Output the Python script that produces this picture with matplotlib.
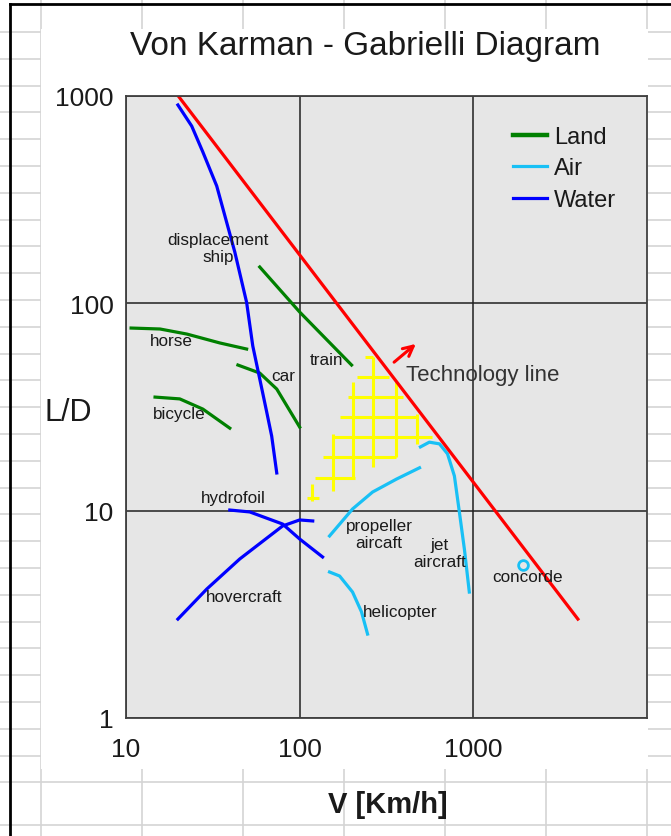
import matplotlib
matplotlib.use('Agg')
import matplotlib.pyplot as plt
from matplotlib.patches import Rectangle

plt.rcParams['font.family'] = ['Liberation Sans', 'DejaVu Sans']

W, H = 671, 837

# ---------------- data ----------------
x_ticks = [10, 100, 1000]
x_tick_labels = ['10', '100', '1000']
y_ticks = [1, 10, 100, 1000]
y_tick_labels = ['1', '10', '100', '1000']

tech_v = [20, 4000]
tech_ld = [1000, 3]
arrow_v = [340, 480]
arrow_ld = [51, 65]

# Water
ship_v = [19.9, 23.9, 27.7, 33.3, 38.5, 42.3, 49.5, 53.7, 58.9, 64.6, 69.0, 73.8]
ship_ld = [905, 716, 537, 368, 236, 177, 101, 62.3, 43.2, 29.9, 22.9, 15.2]
hydrofoil_v = [39.6, 51.6, 79.8, 100, 135.5]
hydrofoil_ld = [10.07, 9.86, 8.62, 7.30, 5.98]
hovercraft_v = [19.9, 29.2, 45.2, 79.8, 100, 118.9]
hovercraft_ld = [3.0, 4.19, 5.85, 8.44, 9.02, 8.92]

# Land
horse_v = [10.7, 15.7, 22.4, 34.7, 49.5]
horse_ld = [76.0, 75.2, 71.1, 64.4, 60.2]
bicycle_v = [14.7, 20.4, 27.7, 39.6]
bicycle_ld = [35.3, 34.6, 30.9, 25.0]
car_v = [44.1, 58.9, 73.8, 100]
car_ld = [50.4, 46.1, 38.6, 25.3]
train_v = [58.9, 100, 199]
train_ld = [149.7, 90.8, 50.4]

# Air
prop_v = [148.6, 201.6, 263, 361, 490]
prop_ld = [7.55, 10.19, 12.3, 14.2, 16.1]
jet_v = [496, 558, 638, 710, 778, 831, 888, 948]
jet_ld = [20.3, 21.4, 21.0, 18.8, 14.7, 9.85, 6.53, 4.05]
heli_v = [148.6, 169.8, 201.6, 227, 246]
heli_ld = [5.06, 4.84, 4.05, 3.25, 2.54]
concorde_v = [1936]
concorde_ld = [5.47]

# yellow mesh (future technology region)
mesh_h_ld = [55.1, 44.1, 35.3, 28.3, 22.7, 18.1, 14.4, 11.5]
mesh_h_v1 = [237, 213, 189, 170, 155, 135.6, 122, 109.7]
mesh_h_v2 = [266, 329, 391, 473, 581, 359, 207, 130]
mesh_v_v = [266, 202, 359, 473, 155, 117.2]
mesh_v_ld1 = [55.1, 41.8, 41.8, 29.3, 23.4, 13.4]
mesh_v_ld2 = [16.2, 14.5, 18.1, 21.0, 12.4, 11.1]

series_names = ['Land', 'Air', 'Water']

# ---------------- styles ----------------
GREEN = '#008000'
AIR = '#18C0F5'
BLUE = '#0000FF'
RED = '#FF0000'
YELLOW = '#FFFF00'
TXT = '#1a1a1a'

fig = plt.figure(figsize=(W / 100, H / 100), dpi=100)
fig.patch.set_facecolor('white')

# spreadsheet background
bg = fig.add_axes([0, 0, 1, 1], zorder=0)
bg.set_xlim(0, W)
bg.set_ylim(H, 0)
bg.axis('off')
rows = [33 + 26.8 * k for k in range(29)] + [826]
cols = [41, 142, 243, 344, 445, 546, 647]
for r in rows:
    bg.plot([0, W], [r, r], color='#d4d4d4', lw=1.2)
for c in cols:
    bg.plot([c, c], [0, H], color='#d4d4d4', lw=1.2)
bg.add_patch(Rectangle((41, 30), 607, 740, facecolor='white', edgecolor='none', zorder=3))
bg.plot([10, 10], [5, H], color='black', lw=2, zorder=5)
bg.plot([10, W], [5, 5], color='black', lw=2, zorder=5)

# main axes
L, R, T, B = 126, 647, 97, 719
ax = fig.add_axes([L / W, 1 - B / H, (R - L) / W, (B - T) / H], zorder=2)
ax.set_facecolor('#E6E6E6')
ax.set_xscale('log')
ax.set_yscale('log')
ax.set_xlim(10, 10000)
ax.set_ylim(1, 1000)
ax.set_xticks(x_ticks)
ax.set_xticklabels(x_tick_labels)
ax.set_yticks(y_ticks)
ax.set_yticklabels(y_tick_labels)
ax.minorticks_off()
ax.tick_params(axis='both', length=0, labelsize=19, labelcolor=TXT)
ax.tick_params(axis='x', pad=14)
ax.tick_params(axis='y', pad=9)
ax.grid(True, which='major', color='#202020', lw=1.1)
ax.set_axisbelow(True)
for s in ax.spines.values():
    s.set_color('#404040')
    s.set_linewidth(1.3)

lw = 2.3
# yellow mesh
for ld, v1, v2 in zip(mesh_h_ld, mesh_h_v1, mesh_h_v2):
    ax.plot([v1, v2], [ld, ld], color=YELLOW, lw=2.2, solid_capstyle='butt')
for v, l1, l2 in zip(mesh_v_v, mesh_v_ld1, mesh_v_ld2):
    ax.plot([v, v], [l1, l2], color=YELLOW, lw=2.2, solid_capstyle='butt')

ax.plot(horse_v, horse_ld, color=GREEN, lw=lw)
ax.plot(bicycle_v, bicycle_ld, color=GREEN, lw=lw)
ax.plot(car_v, car_ld, color=GREEN, lw=lw)
h_land, = ax.plot(train_v, train_ld, color=GREEN, lw=lw, label=series_names[0])

h_air, = ax.plot(prop_v, prop_ld, color=AIR, lw=lw, label=series_names[1])
ax.plot(jet_v, jet_ld, color=AIR, lw=lw)
ax.plot(heli_v, heli_ld, color=AIR, lw=lw)
ax.plot(concorde_v, concorde_ld, 'o', mfc='none', mec=AIR, ms=7, mew=2)

h_water, = ax.plot(ship_v, ship_ld, color=BLUE, lw=lw, label=series_names[2])
ax.plot(hydrofoil_v, hydrofoil_ld, color=BLUE, lw=lw)
ax.plot(hovercraft_v, hovercraft_ld, color=BLUE, lw=lw)

ax.plot(tech_v, tech_ld, color=RED, lw=lw)
ax.annotate('', xy=(arrow_v[1], arrow_ld[1]), xytext=(arrow_v[0], arrow_ld[0]),
            arrowprops=dict(arrowstyle='->', color=RED, lw=2.2, mutation_scale=18))

leg = ax.legend(handles=[h_land, h_air, h_water], loc='upper left',
                bbox_to_anchor=((513 - L) / (R - L), (B - 127) / (B - T)),
                frameon=False, fontsize=17, handlelength=1.45, handletextpad=0.3,
                labelspacing=0.4, borderpad=0, borderaxespad=0)
for t in leg.get_texts():
    t.set_color(TXT)
leg.get_lines()[0].set_linewidth(3.2)

def P(x, y):
    return x / W, 1 - y / H

# titles
fig.text(*P(365, 46), 'Von Karman - Gabrielli Diagram', fontsize=24, ha='center', va='center', color=TXT, zorder=10)
fig.text(*P(68, 413), 'L/D', fontsize=22, ha='center', va='center', color=TXT, zorder=10)
fig.text(*P(388, 805), 'V [Km/h]', fontsize=21, fontweight='bold', ha='center', va='center', color=TXT, zorder=10)

# annotations
ann = [
    ('displacement\nship', 218, 249),
    ('horse', 171, 341),
    ('bicycle', 179, 415),
    ('car', 283, 377),
    ('train', 327, 361),
    ('hydrofoil', 233, 499),
    ('hovercraft', 244, 598),
    ('propeller\naircaft', 379, 535),
    ('jet\naircraft', 440, 554),
    ('helicopter', 400, 612),
    ('concorde', 528, 577),
]
for s, x, y in ann:
    fig.text(*P(x, y), s, fontsize=12.3, ha='center', va='center', color=TXT,
             linespacing=1.1, zorder=10)
fig.text(*P(483, 376), 'Technology line', fontsize=16, ha='center', va='center', color='#333333', zorder=10)

fig.savefig('out.png', dpi=100)
